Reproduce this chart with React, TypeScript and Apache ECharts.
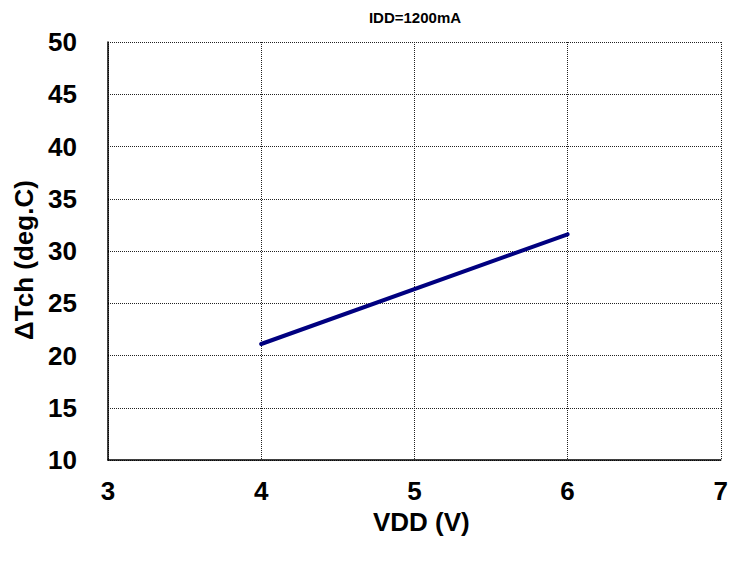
import React, { useEffect, useRef } from "react";
import * as echarts from "echarts";

const vdd = [4, 6];
const dTch = [21.1, 31.6];
const titleText = "IDD=1200mA";
const xName = "VDD (V)";
const yName = "ΔTch (deg.C)";

export default function App() {
  const ref = useRef<HTMLDivElement>(null);
  useEffect(() => {
    if (!ref.current) return;
    const chart = echarts.init(ref.current, null, { renderer: "svg" });
    const font = "'Liberation Sans', Arial, sans-serif";
    const grid = { type: "dotted" as const, color: "#222", width: 1 };
    chart.setOption({
      animation: false,
      backgroundColor: "#fff",
      title: {
        text: titleText,
        left: 410,
        textAlign: "center",
        top: 5,
        textStyle: { fontFamily: font, fontWeight: "bold", fontSize: 15, color: "#000" },
      },
      grid: { left: 108, right: 7, top: 42, bottom: 101 },
      xAxis: {
        type: "value",
        min: 3,
        max: 7,
        interval: 1,
        name: xName,
        nameLocation: "middle",
        nameGap: 34,
        nameTextStyle: {
          fontFamily: font,
          fontWeight: "bold",
          fontSize: 26,
          color: "#000",
          verticalAlign: "top",
          padding: [0, 0, 0, 14],
        },
        axisLine: { show: true, lineStyle: { color: "#000", width: 1.5 } },
        axisTick: { show: false },
        axisLabel: { margin: 18, fontFamily: font, fontWeight: "bold", fontSize: 26, color: "#000" },
        splitLine: { show: true, lineStyle: grid },
      },
      yAxis: {
        type: "value",
        min: 10,
        max: 50,
        interval: 5,
        name: yName,
        nameLocation: "middle",
        nameGap: 70,
        nameTextStyle: { fontFamily: font, fontWeight: "bold", fontSize: 26, color: "#000", padding: [0, 18, 0, 0] },
        axisLine: { show: true, lineStyle: { color: "#000", width: 1.5 } },
        axisTick: { show: false },
        axisLabel: { margin: 31, fontFamily: font, fontWeight: "bold", fontSize: 26, color: "#000" },
        splitLine: { show: true, lineStyle: grid },
      },
      series: [
        {
          type: "line",
          data: vdd.map((v, i) => [v, dTch[i]]),
          showSymbol: false,
          lineStyle: { color: "#000080", width: 4, cap: "round" },
          itemStyle: { color: "#000080" },
        },
      ],
    });
    return () => chart.dispose();
  }, []);
  return (
    <div
      ref={ref}
      style={{ position: "fixed", left: 0, top: 0, width: 731, height: 561 }}
    />
  );
}
